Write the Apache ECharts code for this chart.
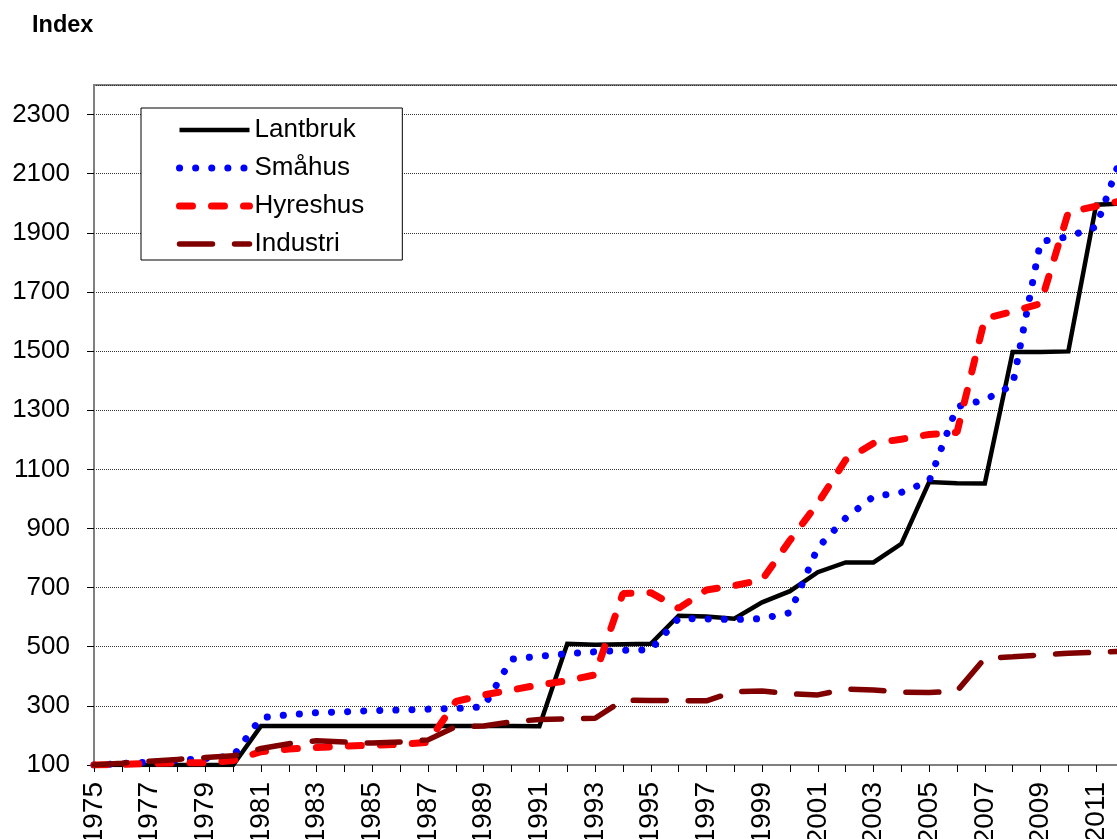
<!DOCTYPE html>
<html lang="sv">
    <head>
        <meta charset="utf-8">
        <title>Index</title>
        <script type="text/javascript" src="https://cdn.jsdelivr.net/npm/echarts@6/dist/echarts.min.js"></script>
        <style>
            body { margin: 0; background: #fff; }
            #chart { width: 1117px; height: 839px; }
        </style>
    </head>
    <body>
        <div id="chart"></div>
        <script>
            // år
            var years = ['1975','1976','1977','1978','1979','1980','1981','1982','1983','1984',
                '1985','1986','1987','1988','1989','1990','1991','1992','1993','1994',
                '1995','1996','1997','1998','1999','2000','2001','2002','2003','2004',
                '2005','2006','2007','2008','2009','2010','2011','2012'];
            var lantbruk = [100,100,100,100,100,100,232,232,232,232,
                232,232,232,232,232,232,231,510,507,508,
                510,605,602,595,650,688,752,785,785,848,
                1057,1053,1052,1497,1497,1499,1995,2000];
            var smahus = [100,105,110,116,122,130,260,270,277,280,
                284,286,289,291,297,458,468,476,483,488,
                490,596,594,592,595,615,835,935,1008,1022,
                1060,1312,1335,1385,1870,1887,1920,2185];
            var hyreshus = [100,102,105,107,108,115,145,154,159,164,
                167,170,177,315,337,354,371,385,405,680,
                683,630,692,707,726,860,985,1132,1188,1202,
                1218,1225,1610,1634,1660,1970,1990,2010];
            var industri = [100,106,113,119,125,131,156,172,182,178,
                174,178,185,230,232,246,254,256,258,319,
                318,318,317,348,350,341,337,357,354,346,
                345,350,461,466,472,478,481,485];

            var font = 'Liberation Sans, Arial, sans-serif';
            // linjestilar, används både för serier och legend
            var styles = {
                'Lantbruk': { color: '#000000', width: 4.5, type: 'solid', cap: 'butt', join: 'miter' },
                'Småhus': { color: '#0000ff', width: 7, type: [0.1, 16], cap: 'round' },
                'Hyreshus': { color: '#ff0000', width: 7, type: [13, 19], cap: 'round' },
                'Industri': { color: '#800000', width: 5.5, type: [33, 22], cap: 'round' }
            };
            var names = ['Lantbruk', 'Småhus', 'Hyreshus', 'Industri'];
            var values = [lantbruk, smahus, hyreshus, industri];

            var myChart = echarts.init(document.getElementById('chart'));
            var option = {
                animation: false,
                textStyle: { fontFamily: font },
                title: {
                    text: 'Index',
                    left: 27,
                    top: 9,
                    textStyle: { fontSize: 23.5, fontWeight: 'bold', color: '#000', fontFamily: font }
                },
                legend: {
                    orient: 'vertical',
                    left: 141,
                    top: 108,
                    padding: [9, 38, 3, 35],
                    itemWidth: 70,
                    itemHeight: 20,
                    itemGap: 12,
                    borderColor: '#000',
                    borderWidth: 1,
                    backgroundColor: '#fff',
                    textStyle: { fontSize: 26, lineHeight: 26, color: '#000', fontFamily: font },
                    data: names.map(function(n) {
                        return {
                            name: n,
                            itemStyle: { opacity: 0 },
                            lineStyle: styles[n]
                        };
                    })
                },
                grid: {
                    left: 94,
                    top: 85,
                    right: -7,
                    bottom: 74,
                    containLabel: false,
                    outerBoundsMode: 'none',
                    show: true,
                    borderColor: '#808080',
                    borderWidth: 2
                },
                xAxis: {
                    type: 'category',
                    data: years,
                    boundaryGap: false,
                    axisLine: { onZero: false, lineStyle: { color: '#808080', width: 2 } },
                    axisTick: { interval: 0, length: 7, lineStyle: { color: '#000' } },
                    axisLabel: { interval: 1, rotate: 90, fontSize: 28, color: '#000', margin: 17, fontFamily: font },
                    splitLine: { show: false }
                },
                yAxis: {
                    type: 'value',
                    min: 100,
                    max: 2400,
                    interval: 200,
                    axisLine: { show: true, lineStyle: { color: '#808080', width: 2 } },
                    axisTick: { show: true, length: 7, lineStyle: { color: '#000' } },
                    axisLabel: {
                        fontSize: 26, color: '#000', margin: 24, showMaxLabel: false, fontFamily: font,
                        formatter: function(v) { return String(v); }
                    },
                    splitLine: { show: true, lineStyle: { color: '#333', width: 1, type: [1, 1] } }
                },
                series: names.map(function(n, i) {
                    return {
                        name: n,
                        type: 'line',
                        symbol: 'none',
                        data: values[i],
                        lineStyle: styles[n],
                        itemStyle: { color: styles[n].color }
                    };
                })
            };
            myChart.setOption(option);
        </script>
    </body>
</html>
